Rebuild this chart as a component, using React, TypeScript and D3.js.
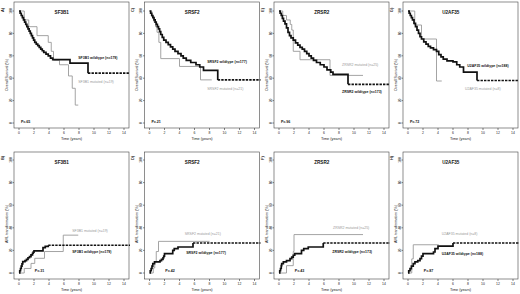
import React from "react";
import * as d3 from "d3";

type Pt = [number, number];

// ---------- DATA ----------
const GENES = ["SF3B1", "SRSF2", "ZRSR2", "U2AF35"];
const OS_LETTERS = ["A)", "C)", "E)", "G)"];
const AML_LETTERS = ["B)", "D)", "F)", "H)"];
const OS_P = ["P=.65", "P=.21", "P=.96", "P=.72"];
const AML_P = ["P=.31", "P=.42", "P=.43", "P=.87"];
const OS_WT_LABELS = ["SF3B1 wildtype (n=179)", "SRSF2 wildtype (n=177)", "ZRSR2 wildtype (n=173)", "U2AF35 wildtype (n=188)"];
const OS_MUT_LABELS = ["SF3B1 mutated (n=19)", "SRSF2 mutated (n=21)", "ZRSR2 mutated (n=25)", "U2AF35 mutated (n=8)"];
const AML_WT_LABELS = ["SF3B1 wildtype (n=179)", "SRSF2 wildtype (n=177)", "ZRSR2 wildtype (n=173)", "U2AF35 wildtype (n=188)"];
const AML_MUT_LABELS = ["SF3B1 mutated (n=19)", "SRSF2 mutated (n=21)", "ZRSR2 mutated (n=25)", "U2AF35 mutated (n=8)"];
const TIME_TICKS = [0, 2, 4, 6, 8, 10, 12, 14];
const PCT_TICKS = [0, 20, 40, 60, 80, 100];

// Overall survival (%), [years, percent]
const OS_SF3B1_WT: Pt[] = [[0,100],[0.15,98],[0.3,96],[0.45,94],[0.6,92],[0.75,90],[0.9,88],[1.05,86],[1.2,84],[1.35,82],[1.5,80],[1.65,78],[1.8,76],[1.95,74],[2.1,72],[2.3,70.5],[2.5,69],[2.7,67.5],[2.9,66],[3.1,64.5],[3.3,63],[3.6,61.5],[3.9,60],[4.2,58],[4.5,56.5],[6.8,53.5],[9.2,44.5]];
const OS_SF3B1_MUT: Pt[] = [[0,100],[0.7,92],[1.3,86],[2.4,78],[3.9,72],[4.3,64],[4.6,56],[5.4,52],[6.6,42],[7.1,31],[7.5,16]];
const OS_SRSF2_WT: Pt[] = [[0,100],[0.15,98],[0.3,96],[0.45,94],[0.6,92],[0.75,90],[0.9,88],[1.05,86],[1.2,84],[1.35,81.5],[1.5,79],[1.7,76.5],[1.9,74],[2.2,72],[2.5,70],[2.8,68],[3.1,66],[3.4,64],[3.8,62],[4.2,60],[4.5,58],[4.9,56],[5.5,54],[6.2,52],[6.7,50],[7.2,47],[9.1,38.5]];
const OS_SRSF2_MUT: Pt[] = [[0,100],[0.3,95],[0.6,90],[0.8,86],[1.0,81],[1.25,72],[1.5,57.5],[4.0,50.5],[6.8,38.5]];
const OS_ZRSR2_WT: Pt[] = [[0,100],[0.15,98],[0.3,96],[0.45,93.5],[0.6,91],[0.8,88.5],[1.0,85],[1.2,81],[1.4,78],[1.6,76],[1.9,74],[2.2,71.5],[2.5,69.5],[2.8,67.5],[3.1,66],[3.4,64],[3.7,62],[4.0,60],[4.3,58],[4.6,56],[5.0,54],[5.5,52],[6.0,50],[6.4,47.5],[6.9,45.5],[7.2,43.5],[9.2,34.5]];
const OS_ZRSR2_MUT: Pt[] = [[0,100],[0.5,96],[1.0,92],[1.5,88],[1.7,83],[1.9,64],[2.8,56.5],[6.8,42.5]];
const OS_U2AF35_WT: Pt[] = [[0,100],[0.15,98],[0.3,96],[0.45,94],[0.6,92],[0.8,89],[1.0,86],[1.2,83],[1.4,80],[1.6,77],[1.8,75],[2.1,72.5],[2.4,70.5],[2.7,68.5],[3.0,67],[3.4,65.5],[3.8,64],[4.1,61],[4.4,59],[4.7,57],[5.2,55.5],[6.0,54.5],[6.5,52],[6.9,50],[7.4,45.5],[9.2,38]];
const OS_U2AF35_MUT: Pt[] = [[0,100],[0.9,87.5],[1.8,75],[3.8,37.5]];
const OS_WT_END = [14.8, 14.8, 14.8, 14.8];
const OS_MUT_END = [7.9, 8.3, 11.2, 4.5];

// AML transformation (%), [years, percent]
const AML_SF3B1_WT: Pt[] = [[0,0],[0.1,2],[0.2,4],[0.3,6],[0.4,8],[0.5,10],[0.8,11],[1.0,12],[1.2,13.5],[1.4,14.5],[1.6,16],[1.8,17.5],[1.9,18.5],[2.0,19.5],[3.2,22.5],[3.5,23.5],[3.9,24.5]];
const AML_SF3B1_MUT: Pt[] = [[0,0],[0.7,4],[1.6,8.5],[2.1,13],[3.4,19],[5.9,33.5]];
const AML_SRSF2_WT: Pt[] = [[0,0],[0.1,2],[0.22,4],[0.33,6],[0.44,8.3],[0.67,9.8],[1.4,11],[1.6,12],[1.8,13.5],[1.9,15],[2.0,17.2],[3.1,20],[3.3,21.5],[3.8,23],[5.8,26.6]];
const AML_SRSF2_MUT: Pt[] = [[0,0],[0.5,4.5],[0.7,10],[0.9,19],[1.2,28]];
const AML_ZRSR2_WT: Pt[] = [[0,0],[0.1,2],[0.2,4],[0.3,6.5],[0.36,8.3],[0.58,9.8],[1.0,11],[1.47,12.7],[1.7,14],[1.9,15.7],[2.1,17.2],[3.0,20],[3.3,21.5],[3.9,23],[5.9,26.6]];
const AML_ZRSR2_MUT: Pt[] = [[0,0],[1.0,6.5],[1.9,19],[2.0,34]];
const AML_U2AF35_WT: Pt[] = [[0,0],[0.1,2],[0.27,3.8],[0.45,6],[0.7,8.3],[0.93,9.8],[1.3,11],[1.6,12.7],[1.8,15],[2.0,17.2],[3.4,18.6],[3.6,21.6],[4.0,23.7],[6.0,26.6]];
const AML_U2AF35_MUT: Pt[] = [[0,0],[0.5,12.5],[0.7,25]];
const AML_WT_END = [14.8, 14.8, 14.8, 14.8];
const AML_MUT_END = [7.9, 8.0, 11.2, 4.1];

const OS_WT = [OS_SF3B1_WT, OS_SRSF2_WT, OS_ZRSR2_WT, OS_U2AF35_WT];
const OS_MUT = [OS_SF3B1_MUT, OS_SRSF2_MUT, OS_ZRSR2_MUT, OS_U2AF35_MUT];
const AML_WT = [AML_SF3B1_WT, AML_SRSF2_WT, AML_ZRSR2_WT, AML_U2AF35_WT];
const AML_MUT = [AML_SF3B1_MUT, AML_SRSF2_MUT, AML_ZRSR2_MUT, AML_U2AF35_MUT];

// ---------- LAYOUT ----------
const W = 520, H = 294;
const COL_X0 = [19, 149.5, 279, 408];
const PX_PER_YEAR = 7.5;
const ROWS = [
  { frameTop: 2, axisY: 128, y100: 11, y0: 123, title: "Overall Survival (%)", titleY: 75, letterY: 10, pY: 122, pT: 0.25 },
  { frameTop: 152, axisY: 279, y100: 160, y0: 273, title: "AML transformation (%)", titleY: 224, letterY: 158, pY: 271, pT: 2.1 },
];
// label anchors in data coords [time, pct]
const OS_WT_POS: Pt[] = [[7.9, 58], [7.7, 54.5], [8.4, 27.7], [7.9, 50.9]];
const OS_MUT_POS: Pt[] = [[7.9, 36.6], [7.7, 30.4], [8.4, 51.8], [7.6, 30.4]];
const AML_WT_POS: Pt[] = [[7.1, 18.6], [4.9, 17.7], [7.1, 18.6], [4.5, 16.8]];
const AML_MUT_POS: Pt[] = [[7.1, 37.2], [4.7, 34.5], [7.2, 39.8], [4.5, 34.5]];

const FONT = "'Liberation Sans', Arial, sans-serif";
const BLACK = "#111";
const GRAY = "#9a9a9a";

function Panel({ col, row }: { col: number; row: number }) {
  const R = ROWS[row];
  const ox = COL_X0[col];
  const x = d3.scaleLinear().domain([0, 14]).range([ox, ox + 14 * PX_PER_YEAR]);
  const y = d3.scaleLinear().domain([0, 100]).range([R.y0, R.y100]);
  const wt = row === 0 ? OS_WT[col] : AML_WT[col];
  const mut = row === 0 ? OS_MUT[col] : AML_MUT[col];
  const wtEnd = row === 0 ? OS_WT_END[col] : AML_WT_END[col];
  const mutEnd = row === 0 ? OS_MUT_END[col] : AML_MUT_END[col];
  const wtPos = row === 0 ? OS_WT_POS[col] : AML_WT_POS[col];
  const mutPos = row === 0 ? OS_MUT_POS[col] : AML_MUT_POS[col];
  const wtLabel = row === 0 ? OS_WT_LABELS[col] : AML_WT_LABELS[col];
  const mutLabel = row === 0 ? OS_MUT_LABELS[col] : AML_MUT_LABELS[col];
  const letter = row === 0 ? OS_LETTERS[col] : AML_LETTERS[col];
  const pval = row === 0 ? OS_P[col] : AML_P[col];

  const line = d3.line<Pt>().x((d) => x(d[0])).y((d) => y(d[1])).curve(d3.curveStepAfter);
  const wtLast = wt[wt.length - 1];
  const mutLast = mut[mut.length - 1];
  const wtMain = line(wt.concat([[wtLast[0], wtLast[1]]]));
  const wtTail = line([wtLast, [wtEnd, wtLast[1]]]);
  const mutPath = line(mut.concat([[mutEnd, mutLast[1]]]));

  const left = ox - 5;
  const right = ox + 110;
  const midX = x(7);

  return (
    <g>
      <rect x={left} y={R.frameTop} width={right - left} height={R.axisY - R.frameTop} fill="none" stroke="#444" strokeWidth={0.6} />
      {TIME_TICKS.map((t) => (
        <g key={"xt" + t}>
          <line x1={x(t)} x2={x(t)} y1={R.axisY} y2={R.axisY + 2} stroke="#333" strokeWidth={0.6} />
          <text x={x(t)} y={R.axisY + 6} fontSize={3.4} textAnchor="middle" fill="#222" fontFamily={FONT}>{t}</text>
        </g>
      ))}
      <text x={midX} y={R.axisY + 12} fontSize={3.8} textAnchor="middle" fill="#222" fontFamily={FONT}>Time (years)</text>
      {PCT_TICKS.map((p) => (
        <g key={"yt" + p}>
          <line x1={left - 1.5} x2={left} y1={y(p)} y2={y(p)} stroke="#333" strokeWidth={0.6} />
          <text transform={`translate(${left - 2.3},${y(p)}) rotate(-90)`} fontSize={3.2} textAnchor="middle" fill="#222" fontFamily={FONT}>{p}</text>
        </g>
      ))}
      <text transform={`translate(${left - 6.5},${R.titleY}) rotate(-90)`} fontSize={3.6} textAnchor="middle" fill="#222" fontFamily={FONT}>{R.title}</text>
      <text transform={`translate(${left - 10.5},${R.letterY}) rotate(-90)`} fontSize={4} fontWeight="bold" textAnchor="middle" fill="#222" fontFamily={FONT}>{letter}</text>
      <text x={x(5.7)} y={R.frameTop + 11.5} fontSize={4.6} fontWeight="bold" textAnchor="middle" fill="#111" fontFamily={FONT}>{GENES[col]}</text>

      <path d={mutPath || ""} fill="none" stroke={GRAY} strokeWidth={0.9} />
      <path d={wtMain || ""} fill="none" stroke={BLACK} strokeWidth={1.7} />
      <path d={wtTail || ""} fill="none" stroke={BLACK} strokeWidth={1.6} strokeDasharray="2.4,1.1" />

      <text x={x(wtPos[0])} y={y(wtPos[1])} dy="0.35em" fontSize={3.5} fontWeight="bold" fill={BLACK} fontFamily={FONT}>{wtLabel}</text>
      <text x={x(mutPos[0])} y={y(mutPos[1])} dy="0.35em" fontSize={3.5} fill={GRAY} fontFamily={FONT}>{mutLabel}</text>
      <text x={x(R.pT)} y={R.pY} dy="0.35em" fontSize={3.6} fontWeight="bold" fill={BLACK} fontFamily={FONT}>{pval}</text>
    </g>
  );
}

export default function App() {
  return (
    <svg width={W} height={H} viewBox={`0 0 ${W} ${H}`} style={{ position: "absolute", left: 0, top: 0, background: "#fff" }}>
      <rect x={0} y={0} width={W} height={H} fill="#fff" />
      {[0, 1].map((row) =>
        [0, 1, 2, 3].map((col) => <Panel key={row + "-" + col} row={row} col={col} />)
      )}
    </svg>
  );
}
